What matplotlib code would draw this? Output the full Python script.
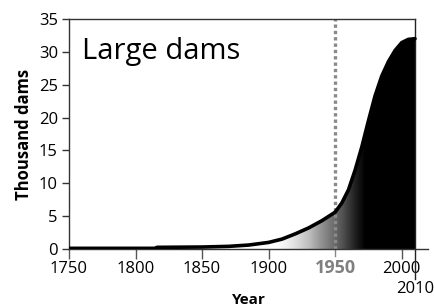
import numpy as np
import matplotlib
matplotlib.use("Agg")
from matplotlib import pyplot as plt
from matplotlib.lines import Line2D

# Cumulative number of large dams (thousands)
years = [1750, 1800, 1815, 1816, 1850, 1870, 1885, 1900, 1910, 1920, 1930, 1940,
         1950, 1955, 1960, 1965, 1970, 1975, 1980, 1985, 1990, 1995, 2000, 2005, 2010]
dams = [0.1, 0.1, 0.1, 0.25, 0.3, 0.4, 0.6, 1.0, 1.5, 2.3, 3.2, 4.3,
        5.6, 7.0, 9.0, 12.0, 15.5, 19.5, 23.3, 26.3, 28.5, 30.2, 31.4, 31.9, 32.0]

xticks = [1750, 1800, 1850, 1900, 2000]
yticks = [0, 5, 10, 15, 20, 25, 30, 35]

plt.rcParams['font.family'] = ['Open Sans', 'DejaVu Sans']

fig = plt.figure(figsize=(4.35, 3.06), dpi=100)
ax = fig.add_axes([0.1586, 0.1863, 0.826, 0.7516])

# gradient fill under the curve
grad = np.linspace(1750, 2010, 400).reshape(1, -1)
im = ax.imshow(grad, extent=(1750, 2010, 0, 35), aspect='auto', cmap='Greys',
               vmin=1905, vmax=1972, origin='lower', zorder=1)
poly = ax.fill_between(years, 0, dams, color='none', lw=0)
clip = poly.get_paths()[0]
im.set_clip_path(clip, transform=ax.transData)

ax.plot(years, dams, color='black', lw=2.6, solid_capstyle='round', zorder=3)

# 1950 marker
ax.plot([1950, 1950], [0, 35], color='#8a8a8a', lw=2.4, linestyle=(0, (1.0, 0.9)), zorder=2)

ax.set_xlim(1750, 2020)
ax.set_ylim(0, 35)

ax.spines['right'].set_visible(False)
ax.spines['top'].set_bounds(1750, 2010)
for s in ax.spines.values():
    s.set_linewidth(1.0)
    s.set_color('#333333')

ax.set_xticks(xticks)
ax.set_xticklabels([str(t) for t in xticks])
ax.set_yticks(yticks)
ax.tick_params(axis='x', direction='out', length=7, width=1, color='#555555', labelsize=12, pad=2)
ax.tick_params(axis='y', direction='out', length=5, width=1, color='#333333', labelsize=12, pad=3)

# 1950 label in grey bold
ax.text(1950, -0.045, '1950', transform=ax.get_xaxis_transform(), ha='center', va='top',
        fontsize=13, fontweight='bold', color='#808080')
ax.plot([1950, 1950], [0, -0.03], transform=ax.get_xaxis_transform(), color='#888888',
        lw=1, clip_on=False)

# 2010 line running through the frame and below the axis
ax.add_line(Line2D([2010, 2010], [1.0, -0.13], transform=ax.get_xaxis_transform(),
                   color='#222222', lw=1.0, clip_on=False))
ax.text(2010, -0.14, '2010', transform=ax.get_xaxis_transform(), ha='center', va='top',
        fontsize=12)

ax.text(1760, 30, 'Large dams', fontsize=21, va='center', ha='left')

ax.set_ylabel('Thousand dams', fontsize=12, fontweight='bold', labelpad=4)
ax.set_xlabel('Year', fontsize=11, fontweight='bold', labelpad=11)

fig.savefig('out.png', dpi=100)
